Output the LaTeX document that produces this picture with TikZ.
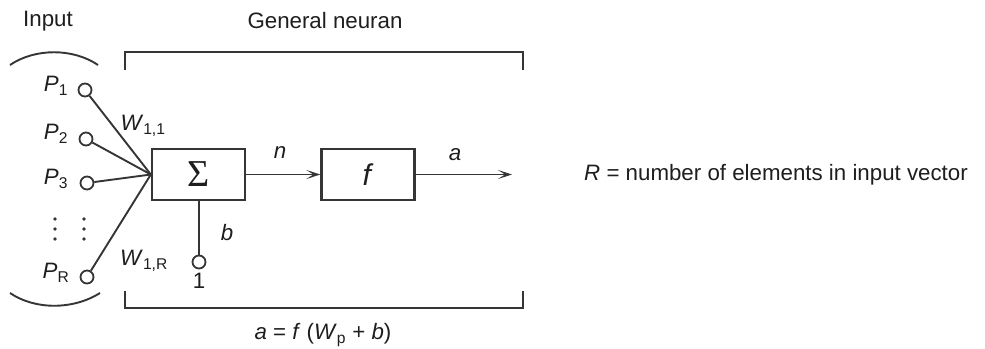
\documentclass[tikz,border=0pt]{standalone}
\usepackage{fontspec}
\setmainfont{Liberation Sans}
\newfontfamily\sigfont{Liberation Serif}
\usetikzlibrary{arrows.meta}
\definecolor{ln}{HTML}{353535}
\definecolor{tx}{HTML}{1E1E1E}
\tikzset{
  lbl/.style={inner sep=0pt, text=tx, font=\fontsize{22.3}{26}\selectfont},
  circ/.style={circle, draw=ln, line width=1.8pt, minimum size=13pt, inner sep=0pt, fill=white},
  blk/.style={draw=ln, line width=2.3pt, minimum width=93pt, minimum height=51pt, inner sep=0pt, text=tx},
  wire/.style={draw=ln, line width=1.9pt},
  arr/.style={wire, -{Stealth[length=14pt, width=9pt, inset=7pt]}},
  brk/.style={draw=ln, line width=2.3pt},
}
\begin{document}
\begin{tikzpicture}[x=1pt, y=-1pt]
\useasboundingbox (0,0) rectangle (985,348);
% titles
\node[lbl] (tin) at (48,21) {Input};
\node[lbl] (tgen) at (325,21) {General neuran};
% brackets
\draw[brk] (125,70) -- (125,52) -- (523,52) -- (523,70);
\draw[brk] (125,291) -- (125,308) -- (523,308) -- (523,291);
\node[lbl] (eq) at (323,335) {\textit{a} = \textit{f} (\textit{W}\textsubscript{p} + \textit{b})};
% input arcs
\draw[wire] (10,65) .. controls (35,48) and (73,48) .. (98,65);
\draw[wire] (10,293) .. controls (35,310) and (73,310) .. (100,293);
% boxes
\node[blk, font=\sigfont\fontsize{38}{40}\selectfont] (sig) at (198.5,174.5) {Σ};
\node[blk, font=\fontsize{30}{34}\selectfont] (f) at (368,174.5) {\raisebox{-3pt}{\textit{f}}};
\coordinate (out) at (512,174.5);
% input circles
\node[circ] (p1) at (85,90) {};
\node[circ] (p2) at (86,139) {};
\node[circ] (p3) at (87,183) {};
\node[circ] (pr) at (87,277) {};
\node[lbl] (lp1) at (56,86) {\textit{P}\textsubscript{1}};
\node[lbl] (lp2) at (56,134) {\textit{P}\textsubscript{2}};
\node[lbl] (lp3) at (56,179) {\textit{P}\textsubscript{3}};
\node[lbl] (lpr) at (56,273) {\textit{P}\textsubscript{R}};
% dots
\foreach \x in {55,84}{
  \foreach \y in {219,229,239}{
    \fill[ln] (\x,\y) circle (1.8);
  }
}
% weights lines
\draw[wire] (p1) -- (sig.west);
\draw[wire] (p2) -- (sig.west);
\draw[wire] (p3) -- (sig.west);
\draw[wire] (pr) -- (sig.west);
\node[lbl] (w11) at (143,126) {\textit{W}\textsubscript{1,1}};
\node[lbl] (w1r) at (144,261) {\textit{W}\textsubscript{1,R}};
% bias
\node[circ] (one) at (199,262) {};
\draw[wire] (sig.south -| one) -- (one);
\node[lbl] (lone) at (199,281) {1};
\node[lbl] (lb) at (227,233) {\textit{b}};
% arrows
\draw[arr] (sig) -- (f);
\draw[arr] (f) -- (out);
\node[lbl] (ln) at (280,153) {\textit{n}};
\node[lbl] (la) at (455,155) {\textit{a}};
% legend
\node[lbl, anchor=west] (leg) at (584,175) {\textit{R} = number of elements in input vector};
\end{tikzpicture}
\end{document}
